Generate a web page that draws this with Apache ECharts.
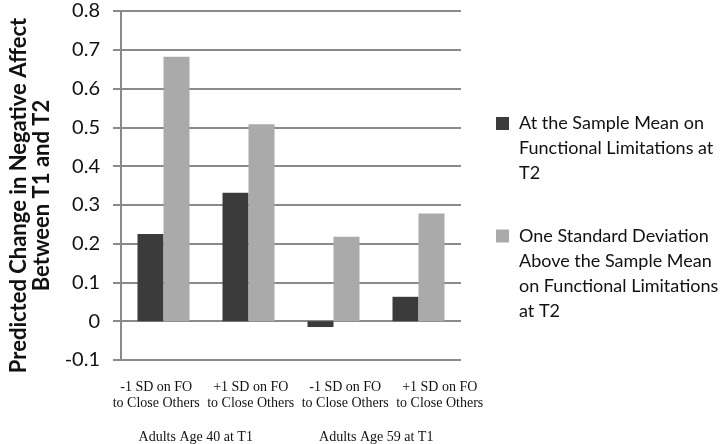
<!DOCTYPE html>
<html>
<head>
<meta charset="utf-8">
<script src="https://cdn.jsdelivr.net/npm/echarts@6/dist/echarts.min.js"></script>
<style>
html,body{margin:0;padding:0;background:#fff;}
#chart{width:720px;height:444px;}
</style>
</head>
<body>
<div id="chart"></div>
<script>
const categories = ['-1 SD on FO\nto Close Others', '+1 SD on FO\nto Close Others', '-1 SD on FO\nto Close Others', '+1 SD on FO\nto Close Others'];
const groupLabels = ['Adults Age 40 at T1', 'Adults Age 59 at T1'];
const seriesNames = ['At the Sample Mean on\nFunctional Limitations at\nT2', 'One Standard Deviation\nAbove the Sample Mean\non Functional Limitations\nat T2'];
const meanValues = [0.225, 0.331, -0.015, 0.063];
const sdValues = [0.682, 0.508, 0.218, 0.278];
const yAxisTitle = 'Predicted Change in Negative Affect\nBetween T1 and T2';

const gridColor = '#8a8a8a';
const chart = echarts.init(document.getElementById('chart'), null, {renderer: 'canvas'});
chart.setOption({
  animation: false,
  backgroundColor: '#ffffff',
  grid: [
    {left: 121, right: 259, top: 11, bottom: 84, outerBoundsMode: 'none', containLabel: false},
    {left: 109, width: 378, top: 371, height: 1, outerBoundsMode: 'none'},
    {left: 105.5, width: 361, top: 419, height: 1, outerBoundsMode: 'none'}
  ],
  legend: {
    orient: 'vertical',
    left: 496,
    top: 61,
    padding: 0,
    itemGap: -37.5,
    itemWidth: 13,
    itemHeight: 13,
    icon: 'rect',
    selectedMode: false,
    formatter: function (name) {
      const n = name.split('\n').length;
      return '\n'.repeat(n - 1) + name;
    },
    textStyle: {fontFamily: 'Lato', fontSize: 18, color: '#111', lineHeight: 25, padding: [0, 0, 0, 5]},
    data: seriesNames
  },
  xAxis: [
    {type: 'category', gridIndex: 0, data: categories,
     axisLine: {show: false}, axisTick: {show: false}, axisLabel: {show: false}},
    {type: 'category', gridIndex: 1, data: categories,
     axisLine: {show: false}, axisTick: {show: false},
     axisLabel: {margin: 7, fontFamily: 'Liberation Serif', fontSize: 14, lineHeight: 16, color: '#111', interval: 0}},
    {type: 'category', gridIndex: 2, data: groupLabels,
     axisLine: {show: false}, axisTick: {show: false},
     axisLabel: {margin: 9, fontFamily: 'Liberation Serif', fontSize: 14, lineHeight: 16, color: '#111', interval: 0}}
  ],
  yAxis: [
    {type: 'value', gridIndex: 0, min: -0.1, max: 0.8, interval: 0.1,
     name: yAxisTitle, nameLocation: 'middle', nameGap: 68, nameRotate: 90,
     nameTextStyle: {fontFamily: 'Lato', fontWeight: 'bold', fontSize: 22, lineHeight: 23, color: '#111', padding: [0, 20, 0, 0]},
     axisLine: {show: true, lineStyle: {color: gridColor, width: 2}},
     axisTick: {show: true, length: 8, lineStyle: {color: gridColor, width: 2}},
     splitLine: {show: true, lineStyle: {color: gridColor, width: 2}},
     axisLabel: {margin: 21, fontFamily: 'Lato', fontSize: 20, color: '#111',
       formatter: function (v) { const r = Math.round(v * 10) / 10; return r === 0 ? '0' : r.toFixed(1); }}},
    {type: 'value', gridIndex: 1, show: false},
    {type: 'value', gridIndex: 2, show: false}
  ],
  series: [
    {name: seriesNames[0], type: 'bar', xAxisIndex: 0, yAxisIndex: 0, data: meanValues,
     barWidth: 26, barGap: '0%', itemStyle: {color: '#3b3b3b'}},
    {name: seriesNames[1], type: 'bar', xAxisIndex: 0, yAxisIndex: 0, data: sdValues,
     barWidth: 26, barGap: '0%', itemStyle: {color: '#aaaaaa'}}
  ]
});
</script>
</body>
</html>
